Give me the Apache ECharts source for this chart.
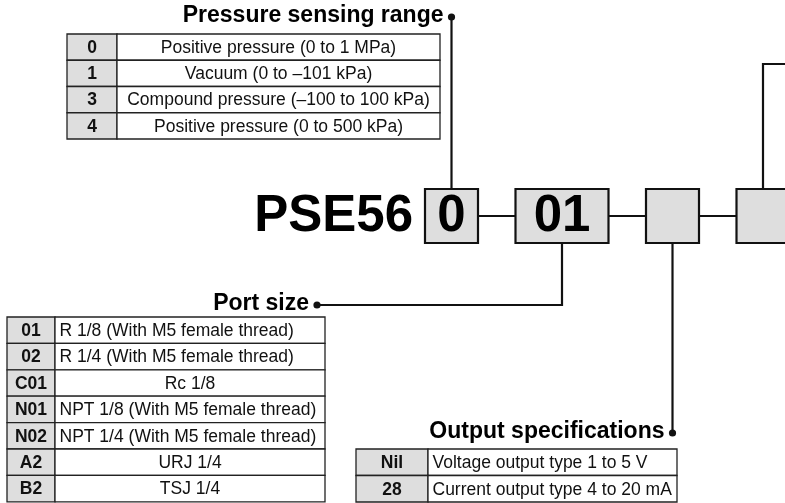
<!DOCTYPE html>
<html><head><meta charset="utf-8">
<script src="https://cdn.jsdelivr.net/npm/echarts@6/dist/echarts.min.js"></script>
<style>html,body{margin:0;padding:0;background:#fff}#c{width:785px;height:503px}</style>
</head><body><div id="c"></div>
<script>
// ---------------- data ----------------
const modelPrefix = 'PSE56';
const partCodes = ['0', '01', '', ''];
const sectionTitles = ['Pressure sensing range', 'Port size', 'Output specifications'];
const pressureCodes = ['0', '1', '3', '4'];
const pressureDescs = [
  'Positive pressure (0 to 1 MPa)',
  'Vacuum (0 to \u2013101 kPa)',
  'Compound pressure (\u2013100 to 100 kPa)',
  'Positive pressure (0 to 500 kPa)'
];
const portCodes = ['01', '02', 'C01', 'N01', 'N02', 'A2', 'B2'];
const portDescs = [
  'R 1/8 (With M5 female thread)',
  'R 1/4 (With M5 female thread)',
  'Rc 1/8',
  'NPT 1/8 (With M5 female thread)',
  'NPT 1/4 (With M5 female thread)',
  'URJ 1/4',
  'TSJ 1/4'
];
const outputCodes = ['Nil', '28'];
const outputDescs = ['Voltage output type 1 to 5 V', 'Current output type 4 to 20 mA'];

// ---------------- layout / style ----------------
const W = 785, H = 503;
const FONT = '"Liberation Sans", Arial, Helvetica, sans-serif';
const CELL_FS = 17.5, TITLE_FS = 23, BIG_FS = 51;
const GRAY = '#dedede', INK = '#111';
const tableCodes = [pressureCodes, portCodes, outputCodes];
const tableDescs = [pressureDescs, portDescs, outputDescs];
const tableLayout = [
  { left: 67, split: 117, right: 440, top: 34, rowH: 26.25, align: 'center' },
  { left: 7, split: 55, right: 325, top: 317, rowH: 26.4, align: 'auto' },
  { left: 356, split: 428, right: 677, top: 449, rowH: 26.5, align: 'auto' }
];
const boxLayout = { left: 425, top: 189, height: 54, gap: 37.5, widths: [53, 93, 53, 53], prefixGap: 12 };
const leaderLayout = [
  { box: 0, side: 'top', dotY: 17 },
  { box: 1, side: 'bottom', elbowY: 305, dotX: 317 },
  { box: 2, side: 'bottom', dotY: 433 },
  { box: 3, side: 'top', elbowY: 64, endX: 795 }
];

const measureCtx = document.createElement('canvas').getContext('2d');
function textWidth(t, fs, weight) {
  measureCtx.font = (weight || 'normal') + ' ' + fs + 'px ' + FONT;
  return measureCtx.measureText(t).width;
}
function boxX(i) {
  let x = boxLayout.left;
  for (let k = 0; k < i; k++) x += boxLayout.widths[k] + boxLayout.gap;
  return x;
}

// ---------------- render functions ----------------
function renderTableRow(params, api) {
  const t = api.value(0), r = api.value(1);
  const L = tableLayout[t];
  const code = tableCodes[t][r], desc = tableDescs[t][r];
  const a = api.coord([L.left, L.top + r * L.rowH]);
  const b = api.coord([L.split, L.top + (r + 1) * L.rowH]);
  const c = api.coord([L.right, L.top + (r + 1) * L.rowH]);
  const midY = (a[1] + b[1]) / 2;
  const descW = c[0] - b[0];
  let align = 'center', tx = (b[0] + c[0]) / 2;
  if (L.align === 'auto' && textWidth(desc, CELL_FS) > descW - 40) { align = 'left'; tx = b[0] + 4.5; }
  return {
    type: 'group',
    children: [
      { type: 'rect', shape: { x: a[0], y: a[1], width: b[0] - a[0], height: b[1] - a[1] },
        style: { fill: GRAY, stroke: '#222', lineWidth: 1.3 } },
      { type: 'rect', shape: { x: b[0], y: a[1], width: descW, height: b[1] - a[1] },
        style: { fill: '#fff', stroke: '#222', lineWidth: 1.3 } },
      { type: 'text', style: { text: code, x: (a[0] + b[0]) / 2, y: midY + 1, align: 'center', verticalAlign: 'middle',
        fontSize: CELL_FS, fontWeight: 'bold', fontFamily: FONT, fill: INK } },
      { type: 'text', style: { text: desc, x: tx, y: midY + 1, align: align, verticalAlign: 'middle',
        fontSize: CELL_FS, fontFamily: FONT, fill: INK } }
    ]
  };
}

function renderBox(params, api) {
  const i = api.value(0);
  const x0 = boxX(i), w = boxLayout.widths[i];
  const a = api.coord([x0, boxLayout.top]);
  const b = api.coord([x0 + w, boxLayout.top + boxLayout.height]);
  const midY = (a[1] + b[1]) / 2;
  const children = [
    { type: 'rect', shape: { x: a[0], y: a[1], width: b[0] - a[0], height: b[1] - a[1] },
      style: { fill: GRAY, stroke: INK, lineWidth: 2.2 } },
    { type: 'text', style: { text: partCodes[i], x: (a[0] + b[0]) / 2, y: midY + 1, align: 'center', verticalAlign: 'middle',
      fontSize: BIG_FS, fontWeight: 'bold', fontFamily: FONT, fill: '#000' } }
  ];
  if (i === 0) {
    children.push({ type: 'text', style: { text: modelPrefix, x: a[0] - boxLayout.prefixGap, y: midY + 1, align: 'right',
      verticalAlign: 'middle', fontSize: BIG_FS, fontWeight: 'bold', fontFamily: FONT, fill: '#000' } });
  } else {
    const p = api.coord([boxX(i - 1) + boxLayout.widths[i - 1], boxLayout.top + boxLayout.height / 2]);
    children.push({ type: 'line', shape: { x1: p[0], y1: p[1], x2: a[0], y2: p[1] },
      style: { stroke: INK, lineWidth: 2.2 } });
  }
  return { type: 'group', children: children };
}

function renderLeader(params, api) {
  const i = api.value(0);
  const L = leaderLayout[i];
  const cx = boxX(L.box) + boxLayout.widths[L.box] / 2;
  const cy = L.side === 'top' ? boxLayout.top : boxLayout.top + boxLayout.height;
  let pts, dot = null;
  if (L.dotY !== undefined) {
    pts = [[cx, cy], [cx, L.dotY]];
    dot = [cx, L.dotY];
  } else if (L.dotX !== undefined) {
    pts = [[cx, cy], [cx, L.elbowY], [L.dotX, L.elbowY]];
    dot = [L.dotX, L.elbowY];
  } else {
    pts = [[cx, cy], [cx, L.elbowY], [L.endX, L.elbowY]];
  }
  const px = pts.map(p => api.coord(p));
  const children = [{ type: 'polyline', shape: { points: px }, style: { stroke: INK, lineWidth: 2.2, fill: null } }];
  if (dot) {
    const d = api.coord(dot);
    children.push({ type: 'circle', shape: { cx: d[0], cy: d[1], r: 3.6 }, style: { fill: INK } });
    if (sectionTitles[i]) {
      children.push({ type: 'text', style: { text: sectionTitles[i], x: d[0] - 8, y: d[1] - 1, align: 'right',
        verticalAlign: 'middle', fontSize: TITLE_FS, fontWeight: 'bold', fontFamily: FONT, fill: '#000' } });
    }
  }
  return { type: 'group', children: children };
}

// ---------------- chart ----------------
const chart = echarts.init(document.getElementById('c'), null, { renderer: 'canvas' });
const tableRows = [];
tableCodes.forEach((codes, t) => codes.forEach((c, r) => tableRows.push([t, r])));

chart.setOption({
  backgroundColor: '#fff',
  animation: false,
  grid: { left: 0, right: 0, top: 0, bottom: 0 },
  xAxis: { type: 'value', min: 0, max: W, show: false },
  yAxis: { type: 'value', min: 0, max: H, inverse: true, show: false },
  series: [
    { type: 'custom', name: 'leaders', clip: false, silent: true, data: leaderLayout.map((l, i) => [i]), renderItem: renderLeader },
    { type: 'custom', name: 'tables', clip: false, silent: true, data: tableRows, renderItem: renderTableRow },
    { type: 'custom', name: 'model', clip: false, silent: true, data: partCodes.map((c, i) => [i]), renderItem: renderBox }
  ]
});
</script>
</body></html>
